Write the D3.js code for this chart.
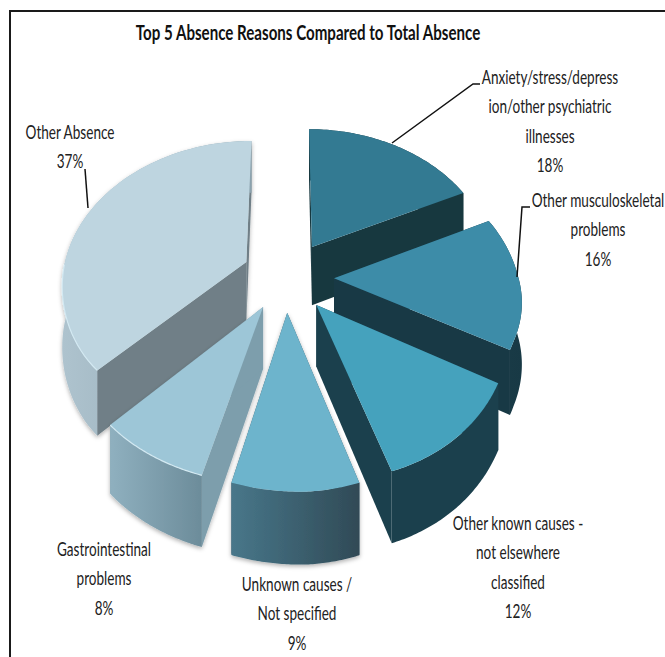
<!DOCTYPE html>
<html>
<head>
<meta charset="utf-8">
<style>
html,body{margin:0;padding:0;background:#fff;overflow:hidden}
svg{display:block}
text{font-family:Lato,"Open Sans",sans-serif;fill:#222}
</style>
<script src="https://cdnjs.cloudflare.com/ajax/libs/d3/7.8.5/d3.min.js"></script>
</head>
<body>
<svg id="chart" width="665" height="657"></svg>
<script>
// Chart content
const titleText = "Top 5 Absence Reasons Compared to Total Absence";
const reasons = [
  "Anxiety/stress/depression/other psychiatric illnesses",
  "Other musculoskeletal problems",
  "Other known causes - not elsewhere classified",
  "Unknown causes / Not specified",
  "Gastrointestinal problems",
  "Other Absence"
];
const shares = [18, 16, 12, 9, 8, 37];

// Slice styling, same order as the reasons
const topColors = ["#337a92", "#3d8ca8", "#45a2bd", "#6db4cc", "#9dc6d7", "#bed5e0"];
const wallColors = ["#17383f", "#183945", "#1b404d", "#3a5a68", "#7d9eac", "#6f7f87"];
const rimFrom = ["#17383f", "#1a3c48", "#1b404d", "#48778a", "#8fb0bf", "#aec3ce"];
const rimTo = ["#17383f", "#183945", "#1b404d", "#304a56", "#6c8c9a", "#8ba2ae"];
const paintOrder = [0, 5, 1, 4, 2, 3];

// Label blocks: wrapped lines, centre x and first baseline
const labelLines = [
  ["Anxiety/stress/depress", "ion/other psychiatric", "illnesses", "18%"],
  ["Other musculoskeletal", "problems", "16%"],
  ["Other known causes -", "not elsewhere", "classified", "12%"],
  ["Unknown causes /", "Not specified", "9%"],
  ["Gastrointestinal", "problems", "8%"],
  ["Other Absence", "37%"]
];
const labelX = [550, 598, 518, 297, 104, 70];
const labelY = [84, 207, 530, 591, 556, 139];
const leaders = [
  [[392, 143], [473, 84], [480, 84]],
  [[517, 277], [522, 207], [530, 207]],
  [[88, 208], [85, 169]]
];

const width = 665, height = 657;
const svg = d3.select("#chart");

// Pie geometry in a flat plane, then a perspective camera onto the page
const explode = 0.25, perspective = 0.1416, depth = 60;
const x = d3.scaleLinear().domain([-1, 1]).range([288 - 184, 288 + 184]);
const y = d3.scaleLinear().domain([-1, 1]).range([276 - 142, 276 + 142]);

// The front half of the disc turns slightly against the clock
function project(px, py, z) {
  const s = 1 / (1 - perspective * py);
  const leanX = py > 0 ? (12 + 8 * Math.min(px, 0)) * py * py : 0;
  const leanY = py > 0 ? -(px > 0 ? 10 : 4) * px * Math.min(1, 2 * py) : 0;
  return [x(px * s) + leanX, y(py * s) + leanY + z * s];
}

const slices = d3.pie().sort(null).value(d => d)(shares);
const defs = svg.append("defs");

const shadow = defs.append("filter").attr("id", "soft")
  .attr("x", "-10%").attr("y", "-10%").attr("width", "120%").attr("height", "120%");
shadow.append("feDropShadow").attr("dx", 0).attr("dy", 2)
  .attr("stdDeviation", 2).attr("flood-color", "#000").attr("flood-opacity", 0.3);

shares.forEach((_, i) => {
  const g = defs.append("linearGradient").attr("id", "rim" + i);
  g.append("stop").attr("offset", "0%").attr("stop-color", rimFrom[i]);
  g.append("stop").attr("offset", "100%").attr("stop-color", rimTo[i]);
});

const outline = d3.line().curve(d3.curveLinearClosed);
const openLine = d3.line();

// Frame runs off the right and bottom of the page
svg.append("rect").attr("x", 10).attr("y", 11).attr("width", 720).attr("height", 720)
  .attr("fill", "#fff").attr("stroke", "#1a1a1a").attr("stroke-width", 2);

const pieGroup = svg.append("g");

paintOrder.forEach(i => {
  const sl = slices[i];
  const mid = (sl.startAngle + sl.endAngle) / 2;
  const ox = explode * Math.sin(mid), oy = -explode * Math.cos(mid);
  const apex = z => project(ox, oy, z);
  const rimAt = (a, z) => project(ox + Math.sin(a), oy - Math.cos(a), z);
  const steps = d3.range(0, 61).map(k => sl.startAngle + (sl.endAngle - sl.startAngle) * k / 60);

  const g = pieGroup.append("g").attr("filter", i >= 3 ? "url(#soft)" : null);

  // the two radial cut faces
  [sl.startAngle, sl.endAngle].forEach(a => {
    g.append("path")
      .attr("d", outline([apex(0), rimAt(a, 0), rimAt(a, depth), apex(depth)]))
      .attr("fill", wallColors[i]);
  });

  // outer rim
  g.append("path")
    .attr("d", outline(steps.map(a => rimAt(a, 0)).concat(steps.slice().reverse().map(a => rimAt(a, depth)))))
    .attr("fill", `url(#rim${i})`);

  // top surface
  g.append("path")
    .attr("d", outline([apex(0)].concat(steps.map(a => rimAt(a, 0)))))
    .attr("fill", topColors[i]);

  // light bevel along the viewer-facing edge of the paler slices
  if (i >= 4) {
    g.append("path")
      .attr("d", openLine(steps.filter(a => Math.cos(a) < 0).map(a => rimAt(a, 0))))
      .attr("fill", "none").attr("stroke", "#d3e9f2").attr("stroke-width", 1.2);
  }
});

// Leader lines
svg.append("g").selectAll("path").data(leaders).join("path")
  .attr("d", d => openLine(d))
  .attr("fill", "none").attr("stroke", "#111").attr("stroke-width", 1.5);

// Condensed type: glyphs squeezed horizontally around their centre
const squeeze = 0.678, labelSize = 20, lineStep = 29.4;
const labels = svg.append("g");
labelLines.forEach((lines, i) => {
  lines.forEach((line, j) => {
    labels.append("text")
      .attr("transform", `translate(${labelX[i]},${labelY[i] + j * lineStep}) scale(${squeeze},1)`)
      .attr("text-anchor", "middle")
      .attr("font-size", labelSize)
      .text(line);
  });
});

svg.append("text")
  .attr("transform", `translate(308,40) scale(0.72,1)`)
  .attr("text-anchor", "middle")
  .attr("font-size", 21)
  .attr("font-weight", 700)
  .style("fill", "#111")
  .text(titleText);
</script>
</body>
</html>
